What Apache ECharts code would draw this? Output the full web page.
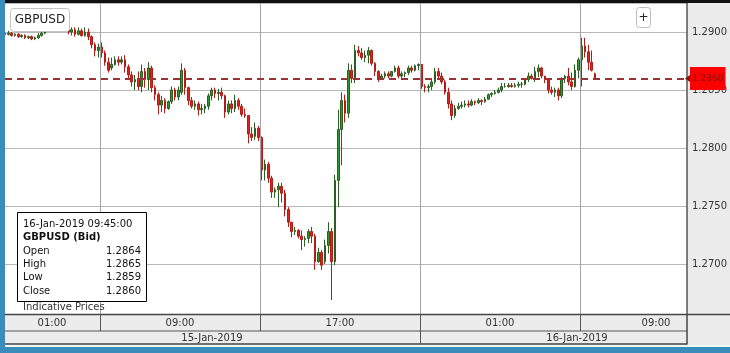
<!DOCTYPE html>
<html><head><meta charset="utf-8">
<script src="https://cdn.jsdelivr.net/npm/echarts@6/dist/echarts.min.js"></script>
<style>html,body{margin:0;padding:0;background:#fff}#c{width:730px;height:353px}</style>
</head><body><div id="c"></div>
<script>
// GBPUSD (Bid), 10-minute candles starting 15-Jan-2019 04:15 (hours counted from 15-Jan 00:00)
const startHour = 4.25;
const stepMinutes = 10;
const openVals = [
1.2899,1.2898,1.2899,1.2897,1.2898,1.2896,1.2897,1.2895,1.2896,1.2894,
1.2895,1.2897,1.2899,null,null,null,null,null,null,1.2902,
1.2900,1.2902,1.2898,1.2901,1.2897,1.2900,1.2896,1.2889,1.2884,1.2887,
1.2882,1.2874,1.2869,1.2872,1.2876,1.2874,1.2876,1.2870,1.2863,1.2857,
1.2859,1.2853,1.2866,1.2859,1.2869,1.2852,1.2846,1.2837,1.2841,1.2834,
1.2840,1.2850,1.2844,1.2848,1.2867,1.2852,1.2841,1.2836,1.2838,1.2833,
1.2834,1.2836,1.2845,1.2850,1.2847,1.2848,1.2845,1.2831,1.2838,1.2834,
1.2841,1.2836,1.2829,1.2828,1.2812,1.2810,1.2817,1.2809,1.2781,1.2786,
1.2774,1.2762,1.2764,1.2767,1.2761,1.2747,1.2736,1.2728,1.2729,1.2724,
1.2721,1.2722,1.2728,1.2724,1.2702,1.2710,1.2702,1.2716,1.2728,1.2702,
1.2772,1.2816,1.2841,1.2830,1.2867,1.2860,1.2884,1.2882,1.2878,1.2880,
1.2884,1.2873,1.2866,1.2860,1.2862,1.2864,1.2862,1.2866,1.2869,1.2862,
1.2864,1.2865,1.2869,1.2867,1.2871,1.2872,1.2853,1.2852,1.2853,1.2857,
1.2866,1.2862,1.2857,1.2848,1.2838,1.2828,1.2834,1.2836,1.2837,1.2838,
1.2837,1.2840,1.2839,1.2841,1.2840,1.2842,1.2846,1.2847,1.2848,1.2850,
1.2853,1.2853,1.2854,1.2853,1.2854,1.2855,1.2855,1.2859,1.2862,1.2860,
1.2866,1.2869,1.2862,1.2859,1.2850,1.2848,1.2850,1.2845,1.2860,1.2862,
1.2857,1.2853,1.2867,1.2876,1.2888,1.2883,1.2874,1.2864];
const closeVals = [
1.2898,1.2899,1.2897,1.2898,1.2896,1.2897,1.2895,1.2896,1.2894,1.2895,
1.2897,1.2899,1.2900,null,null,null,null,null,null,1.2900,
1.2902,1.2898,1.2901,1.2897,1.2900,1.2896,1.2889,1.2884,1.2887,1.2882,
1.2874,1.2867,1.2872,1.2876,1.2874,1.2876,1.2870,1.2863,1.2857,1.2859,
1.2853,1.2866,1.2859,1.2869,1.2852,1.2846,1.2837,1.2841,1.2834,1.2840,
1.2850,1.2844,1.2850,1.2867,1.2852,1.2841,1.2836,1.2838,1.2833,1.2834,
1.2836,1.2845,1.2850,1.2847,1.2848,1.2845,1.2831,1.2838,1.2834,1.2841,
1.2836,1.2829,1.2828,1.2812,1.2809,1.2817,1.2809,1.2781,1.2786,1.2774,
1.2762,1.2764,1.2767,1.2761,1.2747,1.2736,1.2728,1.2729,1.2724,1.2721,
1.2722,1.2728,1.2724,1.2702,1.2710,1.2699,1.2716,1.2728,1.2702,1.2772,
1.2816,1.2841,1.2830,1.2867,1.2860,1.2884,1.2882,1.2878,1.2880,1.2884,
1.2873,1.2866,1.2860,1.2862,1.2864,1.2862,1.2866,1.2869,1.2862,1.2864,
1.2865,1.2869,1.2867,1.2871,1.2872,1.2853,1.2852,1.2853,1.2857,1.2866,
1.2862,1.2857,1.2848,1.2838,1.2828,1.2834,1.2836,1.2837,1.2838,1.2837,
1.2840,1.2839,1.2841,1.2840,1.2842,1.2846,1.2847,1.2848,1.2850,1.2853,
1.2853,1.2854,1.2853,1.2854,1.2855,1.2855,1.2859,1.2862,1.2860,1.2866,
1.2869,1.2862,1.2859,1.2850,1.2848,1.2850,1.2845,1.2860,1.2862,1.2857,
1.2853,1.2867,1.2876,1.2888,1.2883,1.2874,1.2867,1.2860];
const highVals = [
1.2901,1.2901,1.2900,1.2899,1.2899,1.2898,1.2898,1.2897,1.2897,1.2896,
1.2899,1.2901,1.2903,null,null,null,null,null,null,1.2904,
1.2904,1.2904,1.2904,1.2903,1.2904,1.2903,1.2897,1.2891,1.2890,1.2891,
1.2884,1.2878,1.2878,1.2879,1.2879,1.2879,1.2880,1.2872,1.2866,1.2863,
1.2866,1.2872,1.2869,1.2874,1.2871,1.2854,1.2848,1.2845,1.2843,1.2841,
1.2853,1.2852,1.2853,1.2873,1.2869,1.2853,1.2844,1.2841,1.2840,1.2838,
1.2838,1.2847,1.2852,1.2852,1.2851,1.2852,1.2846,1.2841,1.2841,1.2846,
1.2843,1.2838,1.2834,1.2828,1.2818,1.2822,1.2819,1.2810,1.2790,1.2788,
1.2776,1.2766,1.2770,1.2770,1.2764,1.2749,1.2736,1.2732,1.2730,1.2729,
1.2724,1.2730,1.2732,1.2726,1.2714,1.2712,1.2721,1.2736,1.2731,1.2777,
1.2833,1.2848,1.2846,1.2873,1.2872,1.2889,1.2888,1.2886,1.2884,1.2887,
1.2885,1.2874,1.2867,1.2864,1.2866,1.2866,1.2866,1.2871,1.2871,1.2866,
1.2866,1.2871,1.2871,1.2872,1.2873,1.2872,1.2855,1.2855,1.2860,1.2869,
1.2869,1.2865,1.2859,1.2852,1.2841,1.2837,1.2839,1.2840,1.2841,1.2841,
1.2842,1.2841,1.2843,1.2842,1.2844,1.2847,1.2848,1.2850,1.2852,1.2856,
1.2856,1.2856,1.2856,1.2856,1.2857,1.2857,1.2860,1.2865,1.2864,1.2870,
1.2872,1.2870,1.2862,1.2860,1.2853,1.2852,1.2852,1.2861,1.2863,1.2869,
1.2865,1.2872,1.2878,1.2895,1.2895,1.2889,1.2884,1.2865];
const lowVals = [
1.2897,1.2897,1.2896,1.2896,1.2895,1.2895,1.2894,1.2894,1.2893,1.2893,
1.2894,1.2896,1.2898,null,null,null,null,null,null,1.2898,
1.2897,1.2896,1.2897,1.2896,1.2896,1.2893,1.2886,1.2879,1.2878,1.2878,
1.2871,1.2865,1.2867,1.2871,1.2871,1.2872,1.2865,1.2859,1.2853,1.2850,
1.2850,1.2848,1.2852,1.2850,1.2848,1.2841,1.2829,1.2831,1.2830,1.2833,
1.2838,1.2841,1.2841,1.2846,1.2846,1.2837,1.2834,1.2833,1.2828,1.2829,
1.2830,1.2833,1.2841,1.2843,1.2841,1.2842,1.2826,1.2829,1.2830,1.2831,
1.2833,1.2827,1.2826,1.2804,1.2806,1.2807,1.2806,1.2772,1.2772,1.2770,
1.2757,1.2757,1.2749,1.2753,1.2741,1.2732,1.2723,1.2725,1.2722,1.2712,
1.2715,1.2718,1.2718,1.2695,1.2701,1.2695,1.2700,1.2709,1.2669,1.2699,
1.2749,1.2785,1.2822,1.2826,1.2856,1.2856,1.2879,1.2876,1.2874,1.2873,
1.2871,1.2862,1.2857,1.2859,1.2860,1.2860,1.2861,1.2865,1.2860,1.2860,
1.2861,1.2863,1.2865,1.2866,1.2867,1.2851,1.2848,1.2848,1.2850,1.2855,
1.2859,1.2855,1.2846,1.2834,1.2824,1.2826,1.2833,1.2834,1.2835,1.2835,
1.2836,1.2837,1.2838,1.2837,1.2839,1.2842,1.2844,1.2846,1.2847,1.2848,
1.2852,1.2852,1.2852,1.2852,1.2852,1.2852,1.2854,1.2857,1.2859,1.2857,
1.2861,1.2860,1.2856,1.2847,1.2846,1.2844,1.2841,1.2843,1.2856,1.2854,
1.2850,1.2852,1.2860,1.2853,1.2878,1.2867,1.2866,1.2859];

const gridHours = [9, 17, 25, 33];            // 15-Jan 09:00, 17:00, 16-Jan 01:00, 09:00
const timeLabels = ['01:00', '09:00', '17:00', '01:00', '09:00'];
const timeLabelHours = [6.6, 13, 21, 29, 36.8];
const dateLabels = ['15-Jan-2019', '16-Jan-2019'];
const dateLabelHours = [14.6, 32.85];
const lastPrice = 1.2860;
const symbolName = 'GBPUSD';
const tipTitle = '16-Jan-2019 09:45:00';
const tipSub = 'GBPUSD (Bid)';
const tipNames = ['Open', 'High', 'Low', 'Close'];

const FONT = 'DejaVu Sans';
const candles = [];
for (let k = 0; k < openVals.length; k++) {
  if (openVals[k] == null) continue;
  candles.push([startHour + k * stepMinutes / 60, openVals[k], closeVals[k], lowVals[k], highVals[k]]);
}
const lastIdx = openVals.length - 1;
const tipVals = [openVals[lastIdx], highVals[lastIdx], lowVals[lastIdx], closeVals[lastIdx]];

const chart = echarts.init(document.getElementById('c'), null, {renderer: 'canvas', width: 730, height: 353});
chart.setOption({
  animation: false,
  backgroundColor: '#ebebeb',
  grid: {left: 5, right: 43, top: 3, bottom: 31, show: true, backgroundColor: '#ffffff', borderWidth: 0},
  xAxis: {type: 'value', min: 4.25, max: 38.35, show: false},
  yAxis: {
    type: 'value', position: 'right', min: 1.265, max: 1.2925, interval: 0.005,
    axisLine: {show: true, lineStyle: {color: '#555', width: 1.5}},
    axisTick: {show: false},
    axisLabel: {color: '#333', fontFamily: FONT, fontSize: 10, margin: 5, showMinLabel: false, showMaxLabel: false,
      formatter: v => v.toFixed(4)},
    splitLine: {show: true, lineStyle: {color: '#b8b8b8', width: 1}}
  },
  series: [
    {type: 'line', data: [], z: 1, silent: true,
     markLine: {silent: true, symbol: 'none', animation: false, precision: 4, label: {show: false},
       lineStyle: {color: '#a3a3a3', width: 1, type: 'solid'},
       data: gridHours.map(h => ({xAxis: h}))}},
    {type: 'candlestick', data: candles, barWidth: 2, z: 2, silent: true,
     itemStyle: {color: '#2e9a2e', color0: '#e3221c', borderColor: '#2b5e22', borderColor0: '#b51a16', borderWidth: 1}},
    {type: 'line', data: [], z: 3, silent: true,
     markLine: {silent: true, symbol: ['none', 'triangle'], symbolSize: [0, 0], symbolRotate: 0, animation: false, precision: 4,
       data: [{yAxis: lastPrice,
         lineStyle: {color: '#993333', width: 2, type: [7, 5]},
         label: {show: true, position: 'end', formatter: lastPrice.toFixed(4), backgroundColor: '#ff0000',
           color: '#8a1010', fontFamily: FONT, fontSize: 9, padding: [7, 2, 7, 2], distance: 3}}]}}
  ]
});

const xp = h => chart.convertToPixel({xAxisIndex: 0}, h);
const yp = v => chart.convertToPixel({yAxisIndex: 0}, v);
const els = [];
const Z = 100;
// frame strips
els.push({type: 'rect', z: Z, shape: {x: 0, y: 0, width: 730, height: 3}, style: {fill: '#111'}});
els.push({type: 'rect', z: Z, shape: {x: 0, y: 0, width: 5, height: 353}, style: {fill: '#3a8dbb'}});
els.push({type: 'rect', z: Z, shape: {x: 5, y: 314, width: 725, height: 33}, style: {fill: '#ececec'}});
els.push({type: 'rect', z: Z, shape: {x: 5, y: 345, width: 725, height: 2}, style: {fill: '#f6f6f6'}});
els.push({type: 'rect', z: Z, shape: {x: 0, y: 347, width: 730, height: 6}, style: {fill: '#3a8dbb'}});
// small pointer at the price label
const py = yp(lastPrice);
els.push({type: 'polygon', z: Z, shape: {points: [[685, py], [690, py - 3.5], [690, py + 3.5]]}, style: {fill: '#8a1010'}});
// axis rows borders
const ln = (x1, y1, x2, y2, c, w) => ({type: 'line', z: Z + 1, shape: {x1, y1, x2, y2}, style: {stroke: c, lineWidth: w}});
els.push(ln(5, 314.5, 730, 314.5, '#444', 1.5));
els.push(ln(5, 331, 687, 331, '#555', 1));
els.push(ln(5, 344, 687, 344, '#444', 1.5));
els.push(ln(687, 314, 687, 344.5, '#444', 1.5));
gridHours.forEach((h, i) => {
  const x = Math.round(xp(h)) + 0.5;
  els.push(ln(x, 314, x, i === 2 ? 344 : 331, '#555', 1));
});
timeLabels.forEach((t, i) => els.push({type: 'text', z: Z + 2, x: xp(timeLabelHours[i]), y: 323,
  style: {text: t, fill: '#333', font: '10px "' + FONT + '"', textAlign: 'center', textVerticalAlign: 'middle'}}));
dateLabels.forEach((t, i) => els.push({type: 'text', z: Z + 2, x: xp(dateLabelHours[i]), y: 338,
  style: {text: t, fill: '#333', font: '10px "' + FONT + '"', textAlign: 'center', textVerticalAlign: 'middle'}}));
// symbol box
els.push({type: 'rect', z: Z, shape: {x: 10.5, y: 8.5, width: 59, height: 23, r: 3}, style: {fill: '#fff', stroke: '#c4c4c4', lineWidth: 1}});
els.push({type: 'text', z: Z + 1, x: 40, y: 20, style: {text: symbolName, fill: '#222', font: '12px "' + FONT + '"', textAlign: 'center', textVerticalAlign: 'middle'}});
// plus button
els.push({type: 'rect', z: Z, shape: {x: 636.5, y: 7.5, width: 14, height: 20, r: 3}, style: {fill: '#fff', stroke: '#bdbdbd', lineWidth: 1}});
els.push({type: 'text', z: Z + 1, x: 643.5, y: 17.5, style: {text: '+', fill: '#222', font: '12px "' + FONT + '"', textAlign: 'center', textVerticalAlign: 'middle'}});
// indicative prices
els.push({type: 'text', z: Z, x: 23, y: 307, style: {text: 'Indicative Prices', fill: '#333', font: '10px "' + FONT + '"', textAlign: 'left', textVerticalAlign: 'middle'}});
// tooltip box
els.push({type: 'rect', z: Z + 3, shape: {x: 17.5, y: 212.5, width: 129, height: 89}, style: {fill: '#fff', stroke: '#000', lineWidth: 1}});
els.push({type: 'text', z: Z + 4, x: 23, y: 224, style: {text: tipTitle, fill: '#111', font: '10px "' + FONT + '"', textVerticalAlign: 'middle'}});
els.push({type: 'text', z: Z + 4, x: 23, y: 237.5, style: {text: tipSub, fill: '#111', font: 'bold 10px "' + FONT + '"', textVerticalAlign: 'middle'}});
tipNames.forEach((n, i) => {
  const y = 251 + i * 13.4;
  els.push({type: 'text', z: Z + 4, x: 23, y, style: {text: n, fill: '#111', font: '10px "' + FONT + '"', textVerticalAlign: 'middle'}});
  els.push({type: 'text', z: Z + 4, x: 141, y, style: {text: tipVals[i].toFixed(4), fill: '#111', font: '10px "' + FONT + '"', textAlign: 'right', textVerticalAlign: 'middle'}});
});
chart.setOption({graphic: {elements: els}});
</script></body></html>
